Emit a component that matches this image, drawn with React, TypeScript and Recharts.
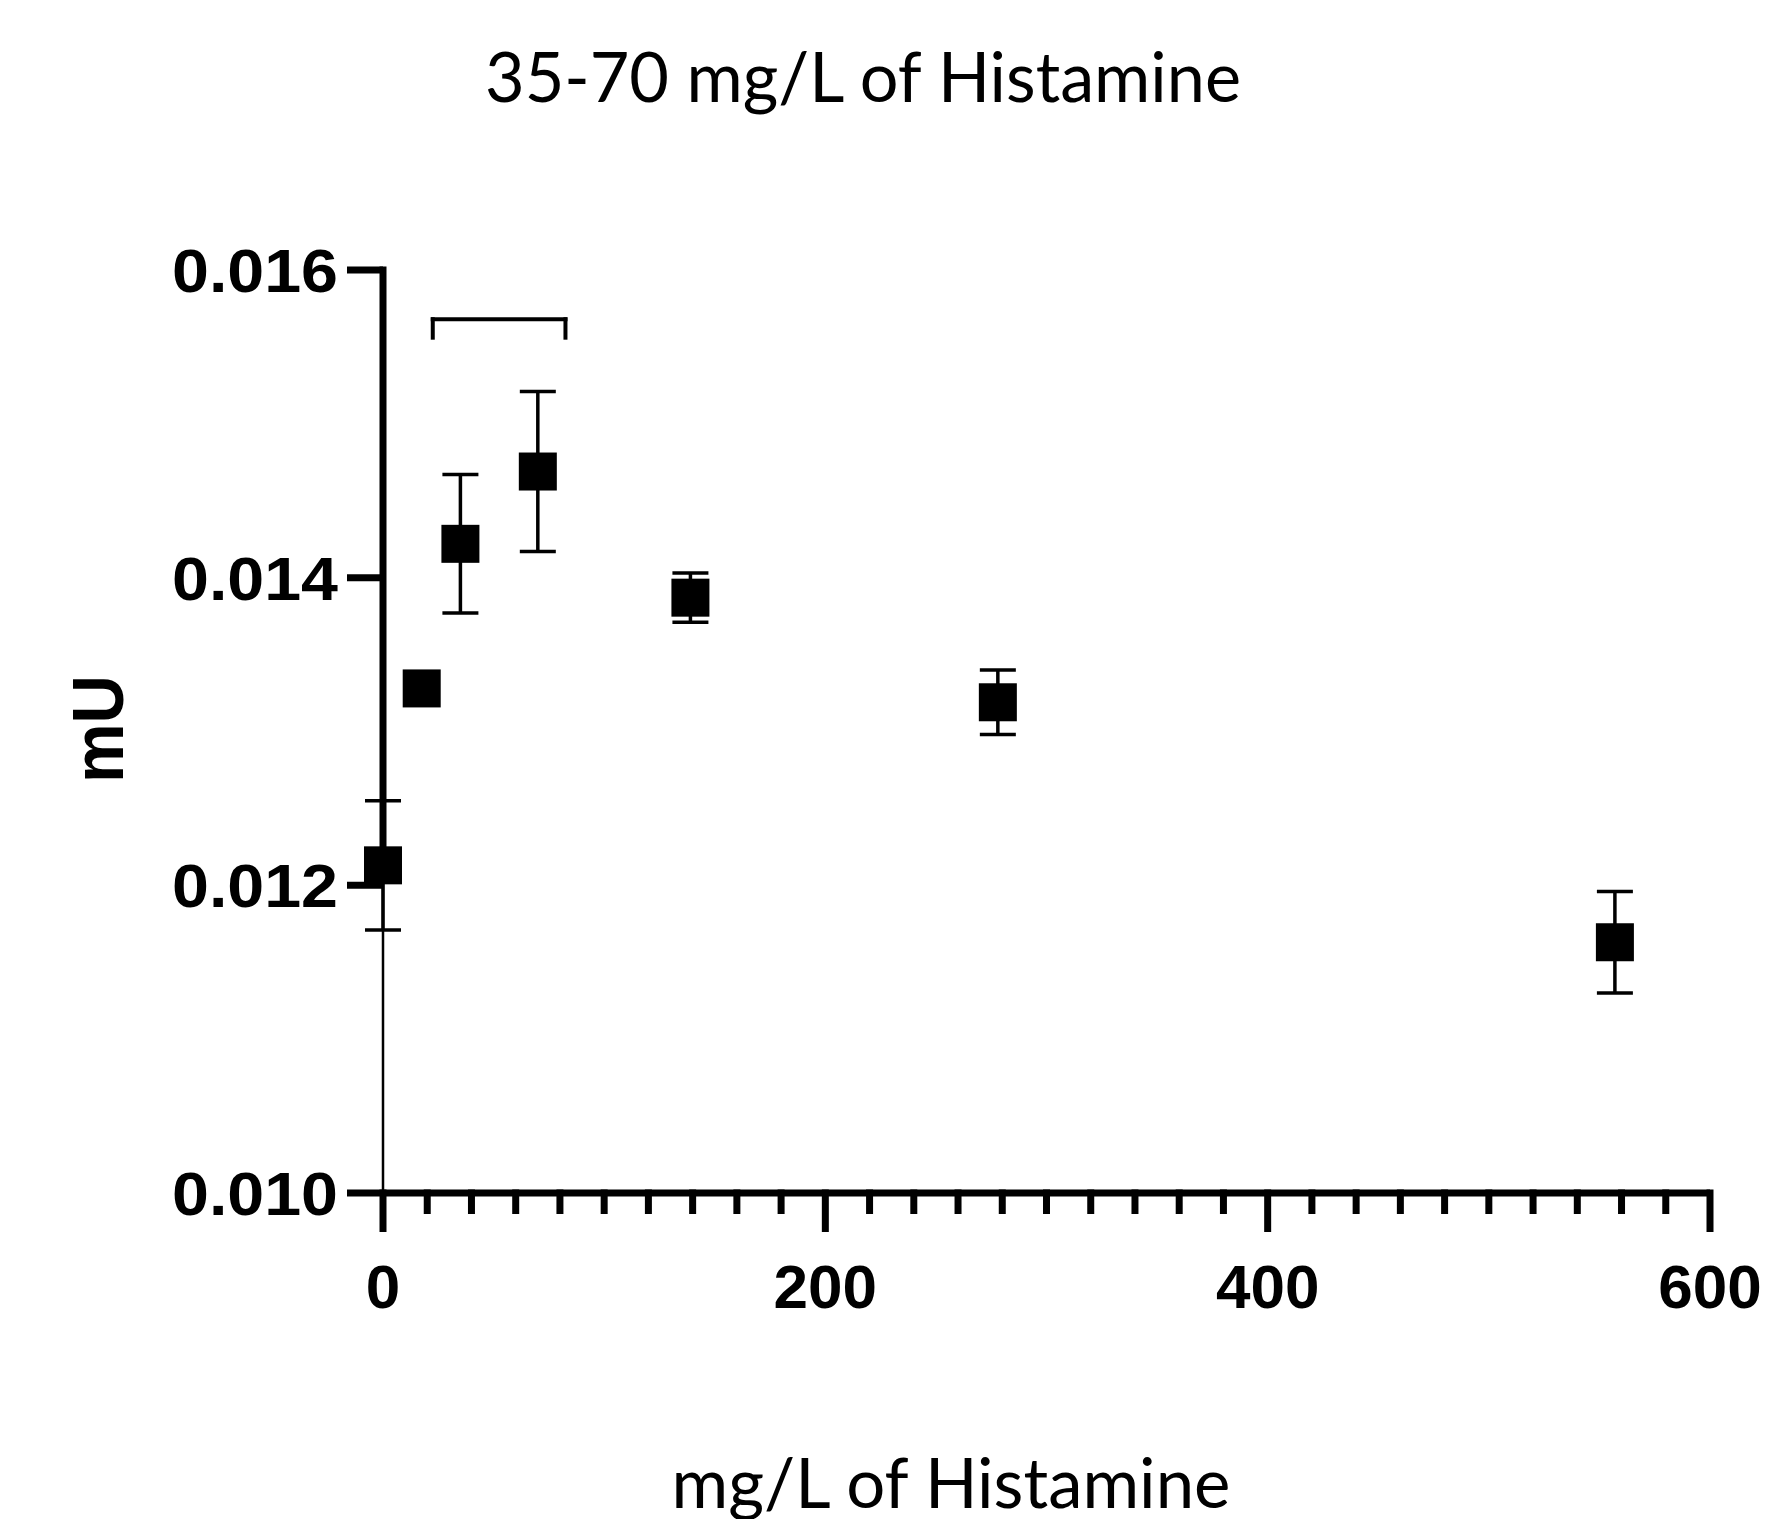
import React from 'react';
import { ScatterChart, Scatter, XAxis, YAxis, ErrorBar, ReferenceLine } from 'recharts';

// histamine concentration (mg/L), mean signal (mU), error (+/-)
const concentration = [0, 17.5, 35, 70, 139, 278, 557];
const signal = [0.01213, 0.01328, 0.01422, 0.01469, 0.01387, 0.01319, 0.01163];
const signalErr = [0.00042, 0, 0.00045, 0.00052, 0.00016, 0.00021, 0.00033];

const xTicks = [0, 20, 40, 60, 80, 100, 120, 140, 160, 180, 200, 220, 240, 260, 280, 300, 320, 340, 360, 380, 400, 420, 440, 460, 480, 500, 520, 540, 560, 580, 600];
const xMajorTicks = [0, 200, 400, 600];
const yTicks = [0.01, 0.012, 0.014, 0.016];

// bracket over the 35-70 mg/L range
const bracketX = [22.5, 82.5];
const bracketY = [0.01556, 0.01568];

const points = concentration.map((x, i) => ({ x, y: signal[i], err: signalErr[i] }));

const W = 1774;
const H = 1519;

const XTick = (props: any) => {
  const { x, y, payload } = props;
  const major = xMajorTicks.includes(payload.value);
  return (
    <g>
      <line x1={x} x2={x} y1={y - 3.5} y2={y + (major ? 39 : 21)} stroke="#000" strokeWidth={7} />
      {major && (
        <text
          x={x}
          y={y + 115}
          textAnchor="middle"
          fontFamily="'Liberation Sans', Arial, sans-serif"
          fontWeight="bold"
          fontSize={62}
          fill="#000"
        >
          {payload.value}
        </text>
      )}
    </g>
  );
};

const YTick = (props: any) => {
  const { x, y, payload } = props;
  return (
    <text
      x={x}
      y={y}
      dy="0.36em"
      textAnchor="end"
      fontFamily="'Liberation Sans', Arial, sans-serif"
      fontWeight="bold"
      fontSize={61}
      fill="#000"
      textLength={166}
      lengthAdjust="spacingAndGlyphs"
    >
      {payload.value.toFixed(3)}
    </text>
  );
};

const SquareDot = (props: any) => {
  const { cx, cy } = props;
  return <rect x={cx - 19} y={cy - 19} width={38} height={38} fill="#000" />;
};

export default function App() {
  return (
    <div style={{ position: 'absolute', left: 0, top: 0, width: W, height: H, background: '#fff' }}>
      <ScatterChart width={W} height={H} margin={{ top: 270, right: 64, bottom: 0, left: 0 }}>
        <XAxis
          type="number"
          dataKey="x"
          domain={[0, 600]}
          ticks={xTicks}
          interval={0}
          height={326}
          axisLine={{ stroke: '#000', strokeWidth: 7 }}
          tickLine={false}
          tickSize={0}
          tickMargin={0}
          tick={<XTick />}
        />
        <YAxis
          type="number"
          dataKey="y"
          domain={[0.01, 0.016]}
          ticks={yTicks}
          interval={0}
          width={383}
          axisLine={false}
          tickLine={{ stroke: '#000', strokeWidth: 7 }}
          tickSize={36}
          tickMargin={9}
          tick={<YTick />}
        />
        <ReferenceLine
          segment={[{ x: 0, y: 0.016 }, { x: 0, y: signal[0] }]}
          stroke="#000"
          strokeWidth={7}
          strokeLinecap="square"
          ifOverflow="visible"
        />
        <ReferenceLine
          segment={[{ x: 0, y: signal[0] }, { x: 0, y: 0.01 }]}
          stroke="#000"
          strokeWidth={2.5}
          ifOverflow="visible"
        />
        <ReferenceLine
          segment={[{ x: bracketX[0], y: bracketY[1] }, { x: bracketX[1], y: bracketY[1] }]}
          stroke="#000"
          strokeWidth={4}
          strokeLinecap="square"
        />
        <ReferenceLine
          segment={[{ x: bracketX[0], y: bracketY[0] }, { x: bracketX[0], y: bracketY[1] }]}
          stroke="#000"
          strokeWidth={4}
          strokeLinecap="square"
        />
        <ReferenceLine
          segment={[{ x: bracketX[1], y: bracketY[0] }, { x: bracketX[1], y: bracketY[1] }]}
          stroke="#000"
          strokeWidth={4}
          strokeLinecap="square"
        />
        <Scatter data={points} fill="#000" shape={<SquareDot />} isAnimationActive={false}>
          <ErrorBar dataKey="err" direction="y" width={18} strokeWidth={3.5} stroke="#000" />
        </Scatter>
      </ScatterChart>
      <svg width={W} height={H} style={{ position: 'absolute', left: 0, top: 0, pointerEvents: 'none' }}>
        <text
          x={863}
          y={102}
          textAnchor="middle"
          fontFamily="Lato, 'Noto Sans', sans-serif"
          fontSize={70}
          fill="#000"
          textLength={756}
          lengthAdjust="spacingAndGlyphs"
        >
          35-70 mg/L of Histamine
        </text>
        <text
          x={951}
          y={1508}
          textAnchor="middle"
          fontFamily="Lato, 'Noto Sans', sans-serif"
          fontSize={70}
          fill="#000"
          textLength={559}
          lengthAdjust="spacingAndGlyphs"
        >
          mg/L of Histamine
        </text>
        <text
          transform="translate(123,729) rotate(-90)"
          textAnchor="middle"
          fontFamily="'Liberation Sans', Arial, sans-serif"
          fontWeight="bold"
          fontSize={72}
          fill="#000"
          textLength={108}
          lengthAdjust="spacingAndGlyphs"
        >
          mU
        </text>
      </svg>
    </div>
  );
}
